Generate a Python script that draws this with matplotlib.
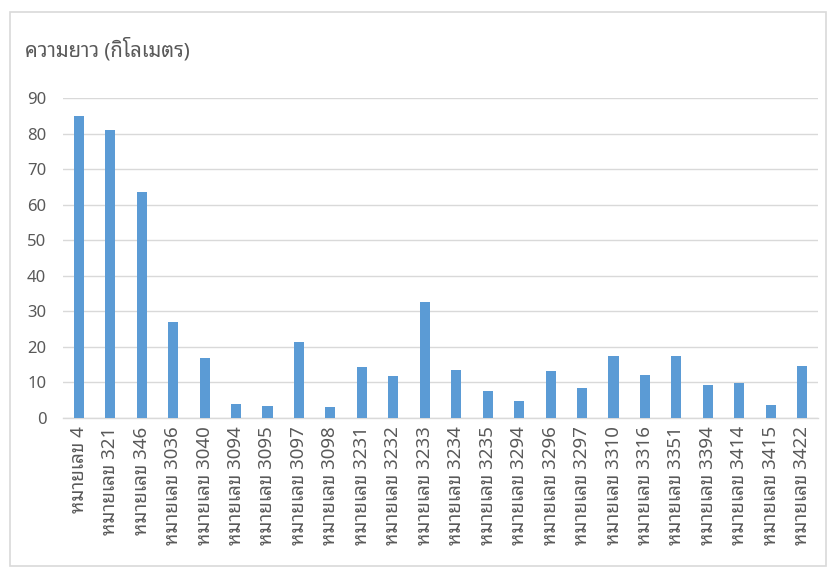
import matplotlib
matplotlib.use("Agg")
import matplotlib.pyplot as plt
from matplotlib import font_manager
from matplotlib.patches import Rectangle
import numpy as np

# ---- data ----
title_text = "ความยาว (กิโลเมตร)"
prefix = "หมายเลข"
route_numbers = ["4", "321", "346", "3036", "3040", "3094", "3095", "3097", "3098",
                 "3231", "3232", "3233", "3234", "3235", "3294", "3296", "3297",
                 "3310", "3316", "3351", "3394", "3414", "3415", "3422"]
lengths_km = [85.0, 81.0, 63.7, 27.1, 17.0, 3.9, 3.5, 21.5, 3.0,
              14.4, 11.9, 32.6, 13.4, 7.6, 4.8, 13.1, 8.5,
              17.4, 12.2, 17.4, 9.4, 9.8, 3.7, 14.6]
y_ticks = [0, 10, 20, 30, 40, 50, 60, 70, 80, 90]
categories = [f"{prefix} {n}" for n in route_numbers]

# ---- find a font with Thai glyphs (prefer looped designs) ----
preferred = ["Noto Sans Thai Looped", "Leelawadee UI", "Leelawadee", "Tahoma",
             "Loma", "Garuda", "Norasi", "Sarabun", "Noto Serif Thai",
             "Noto Sans Thai", "Noto Sans Thai UI"]
thai_fonts = []
try:
    from fontTools.ttLib import TTFont
    for f in font_manager.fontManager.ttflist:
        if f.name in thai_fonts:
            continue
        try:
            tt = TTFont(f.fname, fontNumber=0, lazy=True)
            cmap = tt.getBestCmap()
            if cmap and 0x0E01 in cmap and 0x0E21 in cmap and 0x0E40 in cmap:
                thai_fonts.append(f.name)
        except Exception:
            pass
except Exception:
    pass
thai_font = None
for p in preferred:
    if p in thai_fonts:
        thai_font = p
        break
if thai_font is None and thai_fonts:
    thai_font = thai_fonts[0]
families = ([thai_font] if thai_font else []) + ["DejaVu Sans"]
plt.rcParams["font.family"] = families

text_color = "#595959"
grid_color = "#d9d9d9"
bar_color = "#5B9BD5"

fig = plt.figure(figsize=(8.3, 5.7), dpi=100)
fig.patch.set_facecolor("white")
fig.patches.append(Rectangle((10 / 830, 1 - 566 / 570), 816 / 830, 554 / 570,
                             transform=fig.transFigure, fill=False,
                             edgecolor="#d9d9d9", linewidth=1.2))

ax = fig.add_axes([63 / 830, 1 - 418 / 570, 755 / 830, 320 / 570])
x = np.arange(len(categories))
ax.bar(x, lengths_km, width=0.32, color=bar_color, zorder=3)
ax.set_xlim(-0.5, len(categories) - 0.5)
ax.set_ylim(0, 90)
ax.set_yticks(y_ticks)
ax.set_yticklabels([str(v) for v in y_ticks])
ax.set_xticks(x)
ax.set_xticklabels(categories, rotation=90)
ax.yaxis.grid(True, color=grid_color, linewidth=1, zorder=0)
for s in ["top", "right", "left"]:
    ax.spines[s].set_visible(False)
ax.spines["bottom"].set_color(grid_color)
ax.spines["bottom"].set_linewidth(1)
ax.tick_params(axis="both", length=0, colors=text_color)
ax.tick_params(axis="y", labelsize=12, pad=12)
ax.tick_params(axis="x", labelsize=13.5, pad=6)

fig.text(25 / 830, 1 - 50 / 570, title_text, fontsize=14.5, color=text_color,
         ha="left", va="center")

fig.savefig("out.png", dpi=100, facecolor="white")
